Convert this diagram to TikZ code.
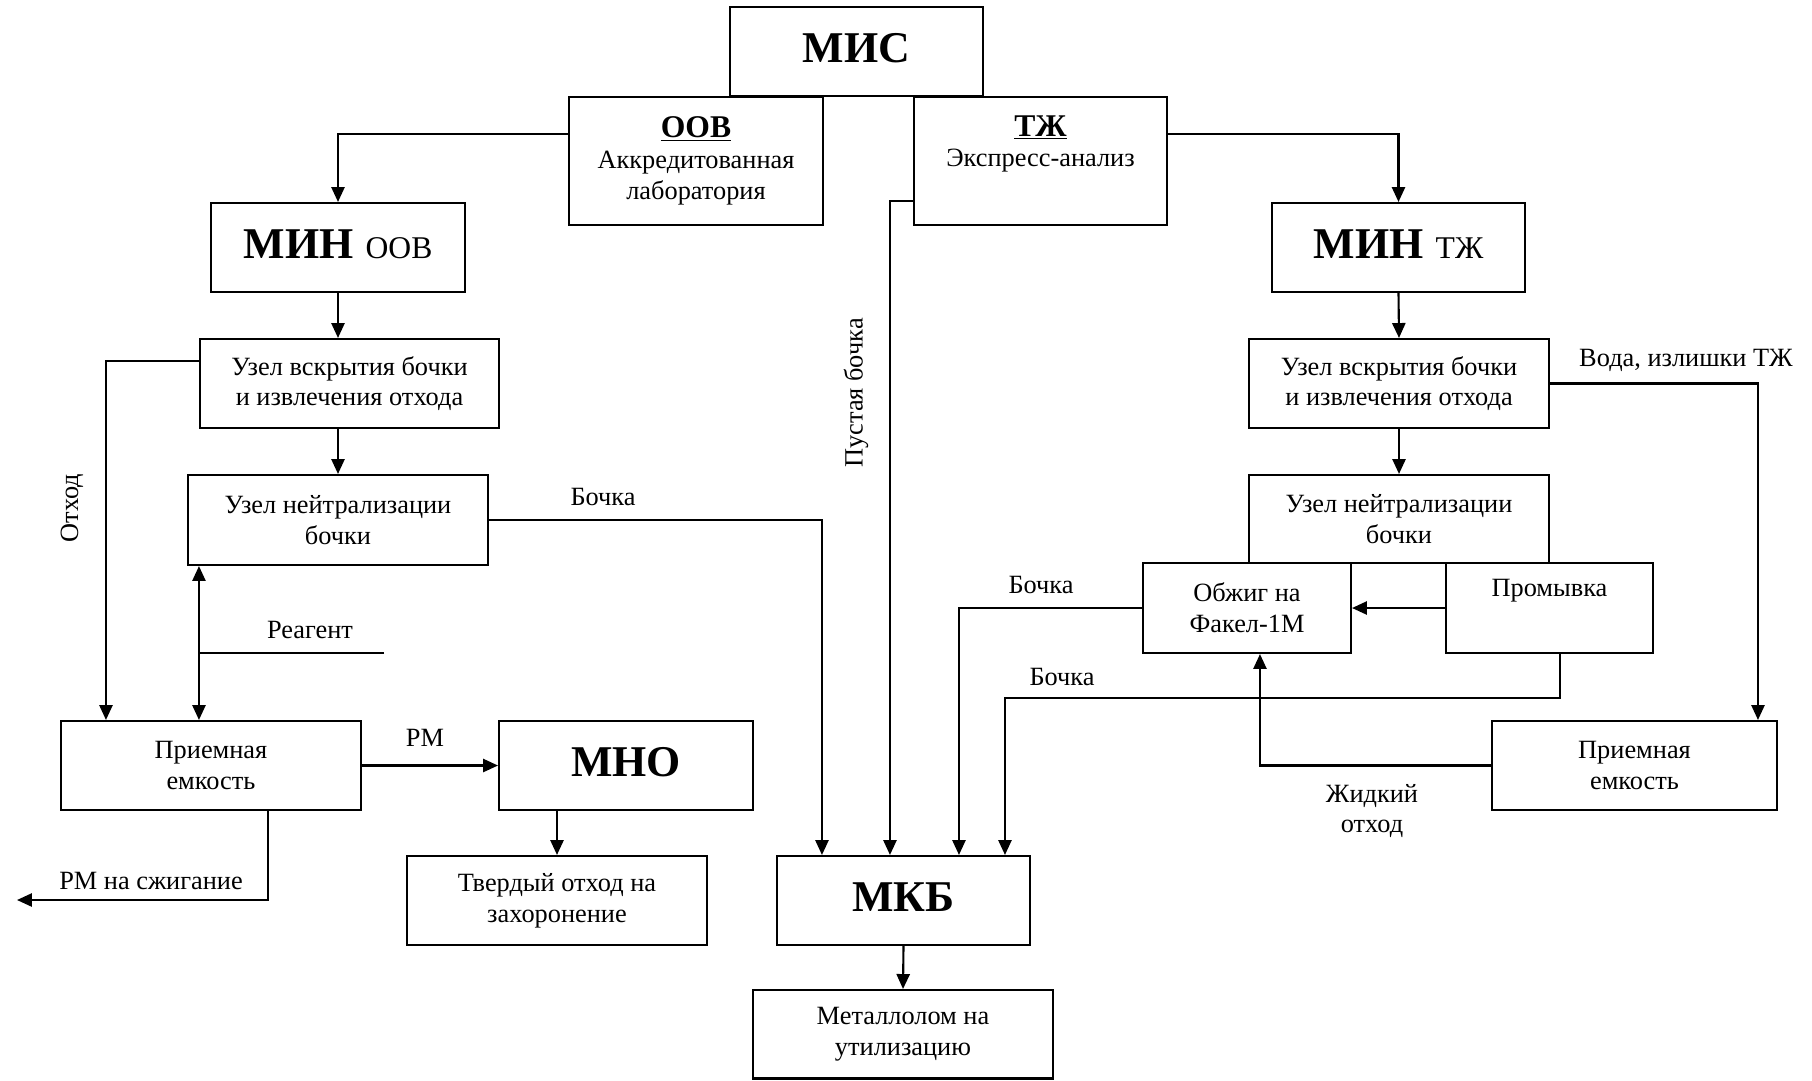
\documentclass[tikz,border=0pt]{standalone}
\usepackage{fontspec}
\setmainfont{Liberation Serif}
\usetikzlibrary{arrows.meta, positioning, calc}
\newcommand{\bname}[1]{\raisebox{4pt}{\fontsize{25}{28}\selectfont\bfseries #1}}
\newcommand{\sname}[1]{\raisebox{4pt}{\fontsize{18}{21}\selectfont #1}}
\newcommand{\uname}[1]{{\fontsize{18}{21}\selectfont\bfseries\underline{#1}}}

\begin{document}
\begin{tikzpicture}[x=0.02cm, y=-0.02cm, line width=1.2pt,
  box/.style={draw, align=center, inner sep=2pt},
  lbl/.style={font=\fontsize{15}{17.5}\selectfont, align=center},
  >={Triangle[length=8.5pt, width=7.5pt]}]
\useasboundingbox (0,0) rectangle (1812,1080);

% top level
\node (mis) at (856.5,51.5) [box, minimum width=5.06cm, minimum height=1.78cm] {\bname{МИС}};
\node (oov) at (696,161) [box, lbl, minimum width=5.08cm, minimum height=2.56cm] {\uname{ООВ}\\Аккредитованная\\лаборатория};
\node (tzh) at (1040.5,161) [box, lbl, minimum width=5.06cm, minimum height=2.56cm] {\uname{ТЖ}\\Экспресс-анализ\\\strut};
\node (minoov) at (338,247.5) [box, minimum width=5.08cm, minimum height=1.78cm] {\bname{МИН}\hspace{7pt}\sname{ООВ}};
\node (mintzh) at (1398.5,247.5) [box, minimum width=5.06cm, minimum height=1.78cm] {\bname{МИН}\hspace{7pt}\sname{ТЖ}};

% left branch
\node (vskr1) at (349.5,383.5) [box, lbl, minimum width=5.98cm, minimum height=1.78cm] {Узел вскрытия бочки\\и извлечения отхода};
\node (neut1) at (338,520) [box, lbl, minimum width=6cm, minimum height=1.8cm] {Узел нейтрализации\\бочки};
\node (priem1) at (211,765.5) [box, lbl, minimum width=6cm, minimum height=1.78cm] {Приемная\\емкость};
\node (mno) at (626,765.5) [box, minimum width=5.08cm, minimum height=1.78cm] {\bname{МНО}};
\node (tverd) at (557,900.5) [box, lbl, minimum width=6cm, minimum height=1.78cm] {Твердый отход на\\захоронение};

% centre
\node (mkb) at (903.5,900.5) [box, minimum width=5.06cm, minimum height=1.78cm] {\bname{МКБ}};
\node (metal) at (903,1034.25) [box, lbl, minimum width=6cm, minimum height=1.77cm] {Металлолом на\\утилизацию};

% right branch
\node (vskr2) at (1399,383.5) [box, lbl, minimum width=6cm, minimum height=1.78cm] {Узел вскрытия бочки\\и извлечения отхода};
\node (neut2) at (1399,519) [box, lbl, minimum width=6cm, minimum height=1.76cm] {Узел нейтрализации\\бочки};
\node (obzhig) at (1247,608) [box, lbl, minimum width=4.16cm, minimum height=1.8cm] {Обжиг на\\Факел-1М};
\node (promyv) at (1549.5,608) [box, lbl, minimum width=4.14cm, minimum height=1.8cm] {Промывка\\\strut};
\node (priem2) at (1634.5,765.5) [box, lbl, minimum width=5.7cm, minimum height=1.78cm] {Приемная\\емкость};

% flow labels
\node (otkhod) at (72,508) [lbl, rotate=90] {Отход};
\node (reag) at (310,630) [lbl] {Реагент};
\node (bochka1) at (603,497) [lbl] {Бочка};
\node (pust) at (856,393) [lbl, rotate=90] {Пустая бочка};
\node (bochka2) at (1041,585) [lbl] {Бочка};
\node (bochka3) at (1062,677) [lbl] {Бочка};
\node (zhidk) at (1372,811) [lbl] {Жидкий\\отход};
\node (voda) at (1686,360) [lbl] {Вода, излишки ТЖ};
\node (rm) at (425,738) [lbl] {РМ};
\node (rmburn) at (151,881) [lbl] {РМ на сжигание};

\coordinate (rgin) at (384,653);
\coordinate (burn) at (17,900);

\draw[->] ($(oov.north west)+(0,38)$) -| (minoov.north);
\draw[->] ($(tzh.north east)+(0,38)$) -| (mintzh.north);
\draw[->] (minoov.south) -- (minoov.south |- vskr1.north);
\draw[->] (vskr1.south -| neut1) -- (neut1.north);
\draw[->] ($(vskr1.north west)+(0,23)$) -| ($(priem1.north west)+(46,0)$);
\draw[<->] ($(neut1.south west)+(12,0)$) coordinate (rg) -- (rg |- priem1.north);
\draw (rgin) -- (rgin -| rg);
\draw[->] (priem1.east) -- (mno.west);
\draw[->] ($(priem1.south west)+(208,0)$) |- (burn);
\draw[->] (tverd.north |- mno.south) -- (tverd.north);
\draw[->] (neut1.east) -| ($(mkb.north west)+(46,0)$);
\draw[->] ($(tzh.north west)+(0,105)$) -| ($(mkb.north west)+(114,0)$);
\draw[->] (obzhig.west) -| ($(mkb.north west)+(183,0)$);
\draw[->] ($(promyv.south west)+(115,0)$) -- ++(0,44) -| ($(mkb.north west)+(229,0)$);
\draw[->] (mkb.south) -- (metal.north);
\draw[->] (mintzh.south) -- (vskr2.north);
\draw[->] (vskr2.south) -- (neut2.north);
\draw[->] (vskr2.east) -| ($(priem2.north west)+(267,0)$);
\draw[->] (promyv.west) -- (obzhig.east);
\draw[->] (priem2.west) -| ($(obzhig.south west)+(118,0)$);
\end{tikzpicture}
\end{document}
